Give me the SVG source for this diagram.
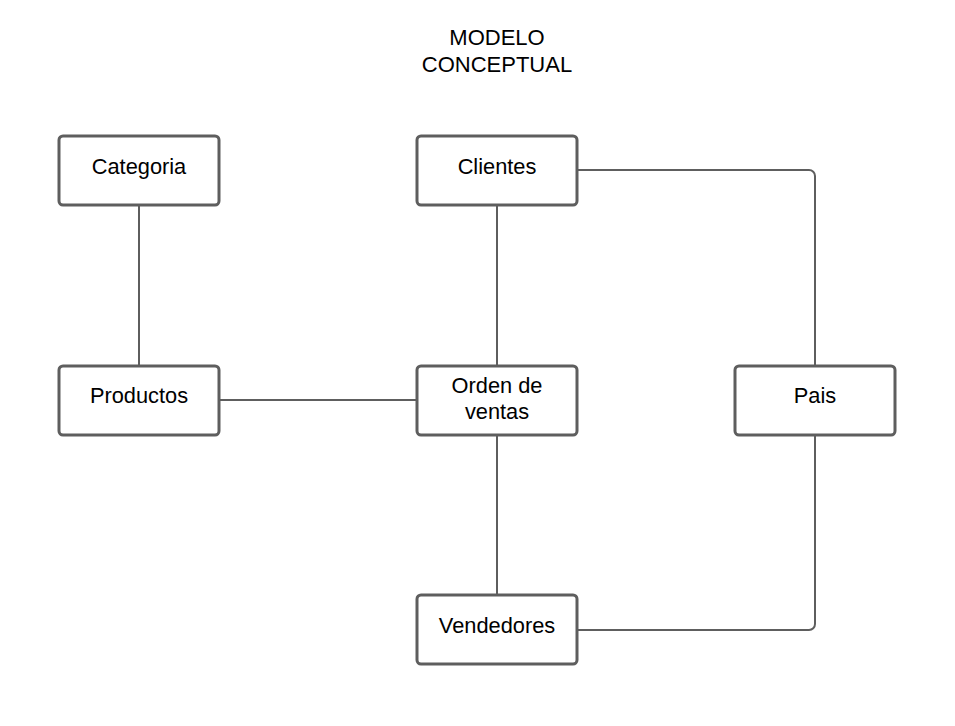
<svg xmlns="http://www.w3.org/2000/svg" width="955" height="726" viewBox="0 0 955 726">
<style>
.box{fill:#fff;stroke:#5e5e5e;stroke-width:3}
.lbl{font-family:"Liberation Sans",Arial,sans-serif;font-size:21.8px;fill:#000;text-anchor:middle}
.ttl{font-family:"Liberation Sans",Arial,sans-serif;font-size:22px;fill:#000;text-anchor:middle}
.conn{fill:none;stroke:#5e5e5e;stroke-width:2}
</style>
<rect width="955" height="726" fill="#fff"/>
<g id="title">
<text class="ttl" x="497" y="45">MODELO</text>
<text class="ttl" x="497" y="72">CONCEPTUAL</text>
</g>
<g id="connectors">
<path class="conn" d="M139 205V366"/>
<path class="conn" d="M497 205V366"/>
<path class="conn" d="M219 400H417"/>
<path class="conn" d="M497 435V595"/>
<path class="conn" d="M577 170H809a6 6 0 0 1 6 6V366"/>
<path class="conn" d="M815 435V624a6 6 0 0 1 -6 6H577"/>
</g>
<g id="categoria">
<rect class="box" x="59" y="136" width="160" height="69" rx="4"/>
<text class="lbl" x="139" y="174">Categoria</text>
</g>
<g id="clientes">
<rect class="box" x="417" y="136" width="160" height="69" rx="4"/>
<text class="lbl" x="497" y="174">Clientes</text>
</g>
<g id="productos">
<rect class="box" x="59" y="366" width="160" height="69" rx="4"/>
<text class="lbl" x="139" y="403">Productos</text>
</g>
<g id="orden">
<rect class="box" x="417" y="366" width="160" height="69" rx="4"/>
<text class="lbl" x="497" y="393">Orden de</text>
<text class="lbl" x="497" y="419">ventas</text>
</g>
<g id="pais">
<rect class="box" x="735" y="366" width="160" height="69" rx="4"/>
<text class="lbl" x="815" y="403">Pais</text>
</g>
<g id="vendedores">
<rect class="box" x="417" y="595" width="160" height="69" rx="4"/>
<text class="lbl" x="497" y="633">Vendedores</text>
</g>
</svg>
